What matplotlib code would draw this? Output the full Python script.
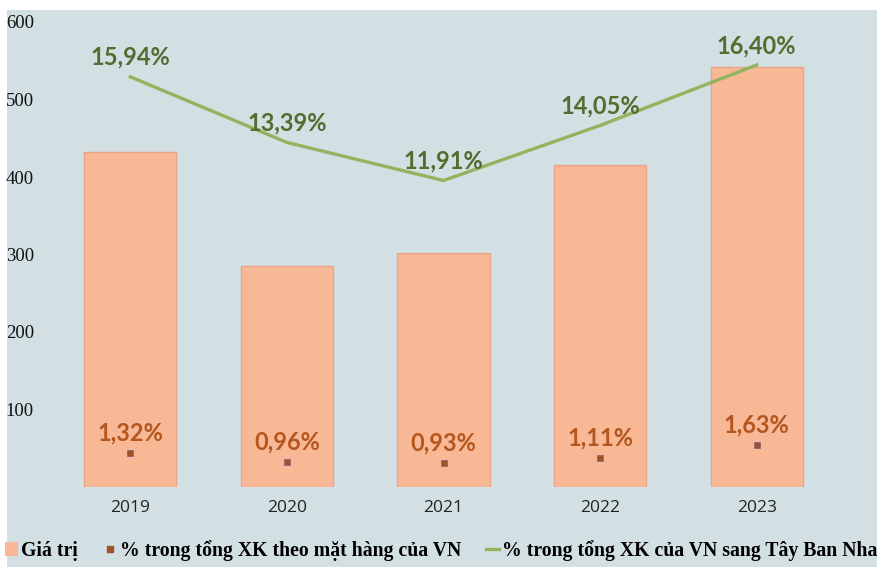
import matplotlib
matplotlib.use("Agg")
import matplotlib.pyplot as plt
from matplotlib.patches import Rectangle
from matplotlib.lines import Line2D

years = ["2019", "2020", "2021", "2022", "2023"]
values = [432, 285, 302, 416, 542]
share_item = [1.32, 0.96, 0.93, 1.11, 1.63]
share_spain = [15.94, 13.39, 11.91, 14.05, 16.40]

def fmt(v):
    return f"{v:.2f}".replace(".", ",") + "%"

fig = plt.figure(figsize=(8.77, 5.67), dpi=100, facecolor="white")
bg = "#d3e0e3"
fig.patches.append(Rectangle((7/877, 0), 1, 1 - 10/567, transform=fig.transFigure,
                             facecolor=bg, edgecolor="none", zorder=-10))

ax = fig.add_axes([52/877, 80/567, 783/877, 465/567])
ax.set_facecolor("none")
x = range(len(years))
ax.bar(x, values, width=0.59, color="#f8b896", edgecolor="#eaa288", linewidth=1.0, zorder=2)
ax.set_ylim(0, 600)
ax.set_xlim(-0.5, 4.5)
ax.set_yticks([100, 200, 300, 400, 500, 600])
ax.set_yticklabels(["100", "200", "300", "400", "500", "600"],
                   fontfamily="Liberation Serif", fontsize=13.5, color="#111111")
ax.tick_params(axis="y", length=0, pad=13)
ax.set_xticks(list(x))
ax.set_xticklabels(years, fontfamily="Open Sans", fontsize=12.5, color="#222222")
ax.tick_params(axis="x", length=0, pad=9)
for s in ax.spines.values():
    s.set_visible(False)
ax.axhline(0, color="#e4ecee", lw=1, zorder=1)

ax2 = ax.twinx()
ax2.set_ylim(0, 18.07)
ax2.set_axis_off()
ax2.plot(list(x), share_spain, color="#93b35e", lw=2.4, zorder=3)
for i, v in enumerate(share_spain):
    ax2.annotate(fmt(v), (i, v), xytext=(0, 14), textcoords="offset points",
                 ha="center", va="center", fontfamily="Lato", fontweight="bold",
                 fontsize=17, color="#556b2f")
ax2.plot(list(x), share_item, linestyle="none", marker="s", markersize=4.8,
         color="#a0522d", markeredgecolor="#8a6a7a", markeredgewidth=0.6, zorder=4)
for i, v in enumerate(share_item):
    ax2.annotate(fmt(v), (i, v), xytext=(0, 14.5), textcoords="offset points",
                 ha="center", va="center", fontfamily="Lato", fontweight="bold",
                 fontsize=17, color="#b5561e")

handles = [
    Rectangle((0, 0), 1, 1, facecolor="#f8b896", edgecolor="none"),
    Line2D([], [], linestyle="none", marker="s", markersize=4.5, color="#a0522d"),
    Line2D([], [], color="#93b35e", lw=2.4),
]
labels = ["Giá trị", "% trong tổng XK theo mặt hàng của VN", "% trong tổng XK của VN sang Tây Ban Nha"]
fig.legend(handles, labels, loc="lower center", bbox_to_anchor=(0.503, -0.02), ncol=3,
           frameon=False, handlelength=0.7, handletextpad=0.15, columnspacing=1.25,
           prop={"family": "Liberation Serif", "weight": "bold", "size": 14.2})

fig.savefig("out.png", dpi=100, facecolor="white")
